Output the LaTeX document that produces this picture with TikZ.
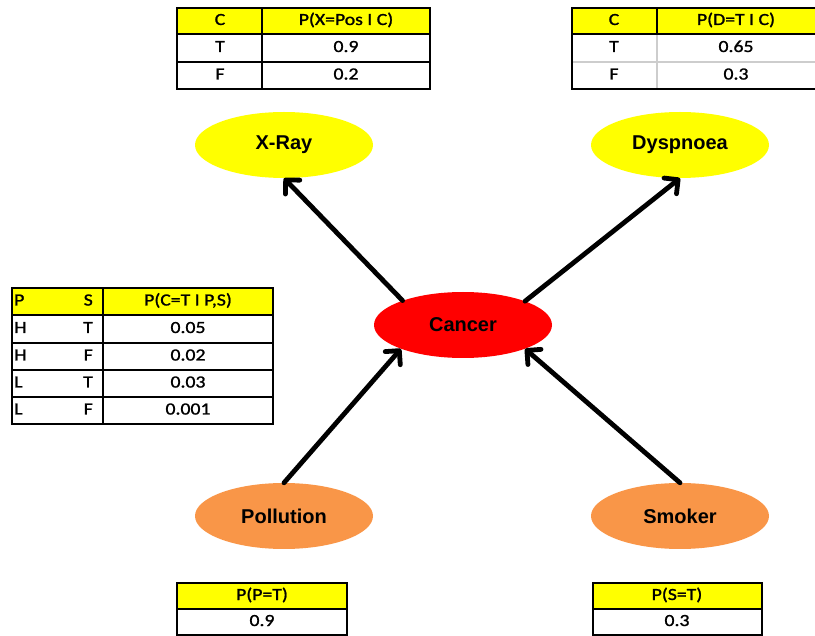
\documentclass[tikz,border=0pt]{standalone}
\usepackage{fontspec}
\setmainfont{Carlito}[FakeStretch=1.16,FakeBold=1.3]
\newfontfamily\labelfont{Liberation Sans}
\usetikzlibrary{arrows.meta,shapes.geometric}

\definecolor{cptyellow}{RGB}{255,255,0}
\definecolor{leafyellow}{RGB}{255,255,0}
\definecolor{causered}{RGB}{255,0,0}
\definecolor{rootorange}{RGB}{249,150,72}
\definecolor{gridgray}{RGB}{205,205,205}

\tikzset{
  var/.style={ellipse, minimum width=178pt, minimum height=66pt, inner sep=0pt,
    font=\labelfont\bfseries\fontsize{20}{24}\selectfont},
  link/.style={line width=4.8pt, line cap=round,
    -{Straight Barb[length=10pt,width=20pt,line cap=round,line join=round]}},
  cell/.style={inner sep=0pt, text height=11.5pt, text depth=3.5pt,
    font=\fontsize{17}{20}\selectfont},
  frame/.style={line width=2.8pt},
  rule/.style={line width=2pt},
  softrule/.style={line width=2pt, draw=gridgray}
}

\begin{document}
\begin{tikzpicture}[x=1pt,y=-1pt]
\useasboundingbox (0,0) rectangle (815,636);

% ---- network variables ----
\node[var, fill=leafyellow] (xray)      at (284,145) {X-Ray};
\node[var, fill=leafyellow] (dyspnoea)  at (680,145) {Dyspnoea};
\node[var, fill=causered]   (cancer)    at (463,325) {Cancer};
\node[var, fill=rootorange] (pollution) at (284,516) {Pollution};
\node[var, fill=rootorange] (smoker)    at (680,516) {Smoker};

% ---- causal links ----
\draw[link] (cancer.158) -- (xray.south);
\draw[link] (cancer.21) -- (dyspnoea.south);
\draw[link] (pollution.north) -- (cancer.201);
\draw[link] (smoker.north) -- (cancer.339);

% ---- P(X | C) ----
\fill[cptyellow] (177,8) rectangle (430,34);
\draw[rule] (177,34) -- (430,34) (177,62) -- (430,62) (262,8) -- (262,89);
\draw[frame] (177,8) rectangle (430,89);
\node[cell] (xh1) at (220,21) {C};
\node[cell] (xh2) at (346,21) {P(X=Pos I C)};
\node[cell] (xr1a) at (220,48) {T};
\node[cell] (xr1b) at (346,48) {0.9};
\node[cell] (xr2a) at (220,75.5) {F};
\node[cell] (xr2b) at (346,75.5) {0.2};

% ---- P(D | C) ----
\fill[cptyellow] (572,8) rectangle (815,34);
\draw[softrule] (657,34) -- (657,89) (572,62) -- (815,62);
\draw[rule] (572,34) -- (815,34) (657,8) -- (657,34);
\draw[frame] (816,8) -- (572,8) -- (572,89) -- (816,89);
\node[cell] (dh1) at (614,21) {C};
\node[cell] (dh2) at (736,21) {P(D=T I C)};
\node[cell] (dr1a) at (614,48) {T};
\node[cell] (dr1b) at (736,48) {0.65};
\node[cell] (dr2a) at (614,75.5) {F};
\node[cell] (dr2b) at (736,75.5) {0.3};

% ---- P(C | P,S) ----
\fill[cptyellow] (12,288) rectangle (273,315);
\draw[rule] (12,315) -- (273,315) (12,343) -- (273,343)
            (12,370) -- (273,370) (12,397) -- (273,397)
            (103,288) -- (103,424);
\draw[frame] (12,288) rectangle (273,424);
\node[cell, anchor=west] (ch1) at (14,301.5) {P};
\node[cell, anchor=east] (ch2) at (93,301.5) {S};
\node[cell] (ch3) at (188,301.5) {P(C=T I P,S)};
\node[cell, anchor=west] (c1a) at (14,329) {H};
\node[cell, anchor=east] (c1b) at (93,329) {T};
\node[cell] (c1c) at (188,329) {0.05};
\node[cell, anchor=west] (c2a) at (14,356.5) {H};
\node[cell, anchor=east] (c2b) at (93,356.5) {F};
\node[cell] (c2c) at (188,356.5) {0.02};
\node[cell, anchor=west] (c3a) at (14,383.5) {L};
\node[cell, anchor=east] (c3b) at (93,383.5) {T};
\node[cell] (c3c) at (188,383.5) {0.03};
\node[cell, anchor=west] (c4a) at (14,410.5) {L};
\node[cell, anchor=east] (c4b) at (93,410.5) {F};
\node[cell] (c4c) at (188,410.5) {0.001};

% ---- P(P) ----
\fill[cptyellow] (177,583) rectangle (347,609);
\draw[rule] (177,609) -- (347,609);
\draw[frame] (177,583) rectangle (347,635);
\node[cell] (ph) at (262,596) {P(P=T)};
\node[cell] (pv) at (262,622) {0.9};

% ---- P(S) ----
\fill[cptyellow] (593,583) rectangle (762,609);
\draw[rule] (593,609) -- (762,609);
\draw[frame] (593,583) rectangle (762,635);
\node[cell] (sh) at (677,596) {P(S=T)};
\node[cell] (sv) at (677,622) {0.3};
\end{tikzpicture}
\end{document}
